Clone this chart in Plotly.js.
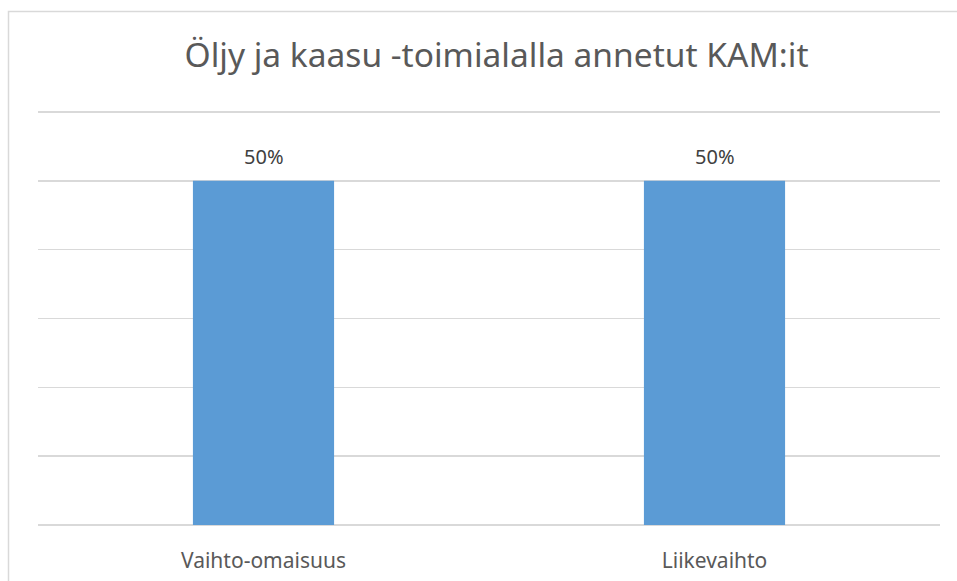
<!DOCTYPE html>
<html>
<head>
<meta charset="utf-8">
<script src="https://cdn.plot.ly/plotly-3.0.1.min.js"></script>
<style>html,body{margin:0;padding:0;background:#fff;overflow:hidden;}</style>
</head>
<body>
<div id="chart" style="width:957px;height:581px;"></div>
<script>
const categories = ["Vaihto-omaisuus", "Liikevaihto"];
const values = [0.5, 0.5];
const titleText = "Öljy ja kaasu -toimialalla annetut KAM:it";

const font = "Noto Sans, Open Sans, sans-serif";

const trace = {
  type: "bar",
  x: categories,
  y: values,
  marker: {color: "#5B9BD5"},
  hoverinfo: "none"
};

const annotations = categories.map((c, i) => ({
  x: c, y: values[i], xref: "x", yref: "y",
  text: Math.round(values[i] * 100) + "%",
  showarrow: false, yanchor: "bottom", yshift: 9,
  font: {family: font, size: 20, color: "#404040"}
}));

const layout = {
  width: 957, height: 581,
  margin: {l: 38, r: 17, t: 111, b: 56},
  paper_bgcolor: "#ffffff", plot_bgcolor: "#ffffff",
  showlegend: false,
  bargap: 0.687,
  title: {
    text: titleText,
    font: {family: font, size: 33.5, color: "#595959"},
    x: 496.5 / 957, xanchor: "center", y: 1 - 55 / 581, yanchor: "middle", yref: "container"
  },
  xaxis: {
    showgrid: false, showline: false, zeroline: false,
    ticks: "outside", ticklen: 17, tickcolor: "rgba(0,0,0,0)",
    tickfont: {family: font, size: 21, color: "#595959"},
    fixedrange: true
  },
  yaxis: {
    range: [0, 0.6015], dtick: 0.1, tick0: 0,
    showgrid: true, gridcolor: "#D9D9D9", gridwidth: 1.4,
    zeroline: true, zerolinecolor: "#D9D9D9", zerolinewidth: 1.4,
    showticklabels: false, ticks: "", showline: false,
    fixedrange: true
  },
  annotations: annotations,
  shapes: [{
    type: "rect", xref: "paper", yref: "paper",
    x0: (8.5 - 38) / 902, x1: 2, y0: -2, y1: (525 - 11.5) / 414,
    line: {color: "#D9D9D9", width: 1.5}, fillcolor: "rgba(0,0,0,0)", layer: "below"
  }]
};

Plotly.newPlot("chart", [trace], layout, {displayModeBar: false, staticPlot: true});
</script>
</body>
</html>
